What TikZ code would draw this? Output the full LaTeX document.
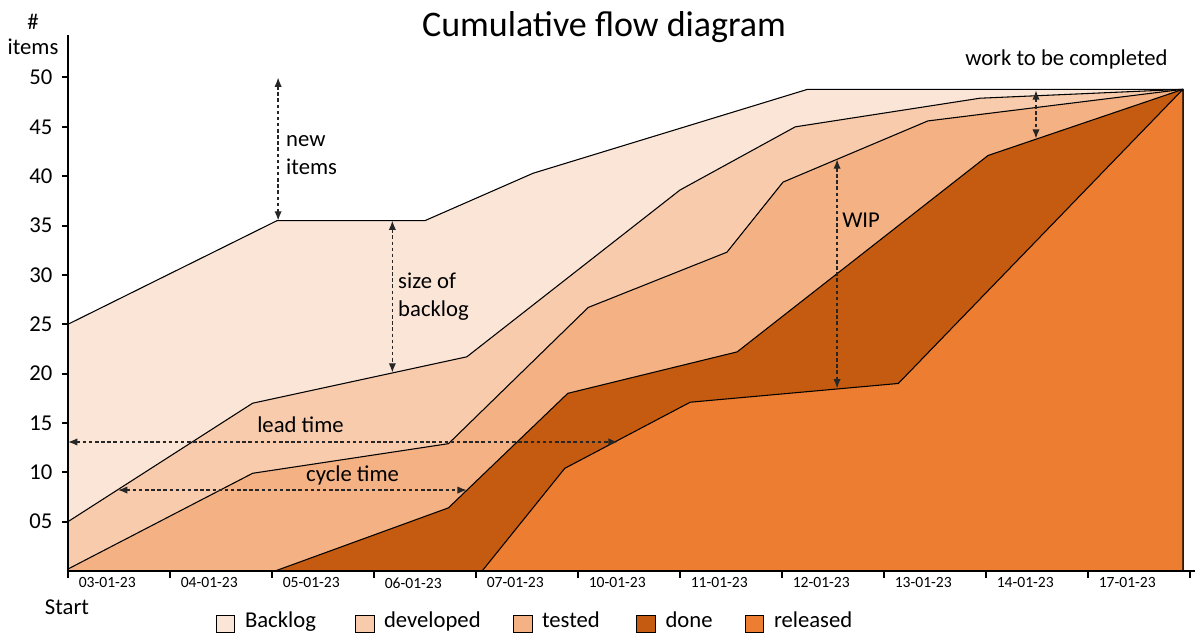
\documentclass[tikz,border=0pt]{standalone}
\usepackage{fontspec}
\setmainfont{Carlito}
\usetikzlibrary{arrows.meta,positioning}

\definecolor{backlogc}{HTML}{FBE5D6}
\definecolor{developedc}{HTML}{F8CBAD}
\definecolor{testedc}{HTML}{F4B183}
\definecolor{donec}{HTML}{C55A11}
\definecolor{releasedc}{HTML}{ED7D31}

\tikzset{
    area/.style={draw=black, line width=0.8pt, line join=round},
    axisline/.style={line width=2.2pt},
    dimarrow/.style={dash pattern=on 2.6pt off 2pt, line width=1pt, draw=black!85,
        {Latex[length=7pt,width=5.5pt]}-{Latex[length=7pt,width=5.5pt]}},
    note/.style={font=\fontsize{17}{21}\selectfont, inner sep=0pt, align=left},
    ticklabel/.style={font=\fontsize{11.7}{14}\selectfont, inner sep=0pt},
    legbox/.style={draw=black, line width=0.7pt, minimum width=14.2pt, minimum height=12.7pt, inner sep=0pt},
    legtext/.style={font=\fontsize{17}{21}\selectfont, inner sep=0pt, text height=1.5ex, text depth=0.3ex}
}

\begin{document}
\begin{tikzpicture}[x=2.6888cm, y=0.26017cm]
    \useasboundingbox (-0.6667,-6.383) rectangle (11.1176,57.852);

    % stacked areas, back to front
    \filldraw[area, fill=backlogc] (0,25) -- (2.05,35.5) -- (3.5,35.5) -- (4.56,40.3)
        -- (7.25,48.8) -- (10.93,48.8) -- (10.93,0) -- (0,0) -- cycle;
    \filldraw[area, fill=developedc] (0,5) -- (1.81,17) -- (3.91,21.7) -- (6,38.6)
        -- (7.13,45) -- (8.94,47.9) -- (10.93,48.8) -- (10.93,0) -- (0,0) -- cycle;
    \filldraw[area, fill=testedc] (0,0.2) -- (1.81,9.9) -- (3.73,12.9) -- (5.1,26.7)
        -- (6.46,32.3) -- (7.01,39.4) -- (8.43,45.6) -- (10.93,48.8) -- (10.93,0) -- (0,0) -- cycle;
    \filldraw[area, fill=donec] (2.03,0) -- (3.73,6.4) -- (4.9,18) -- (6.56,22.2)
        -- (9.02,42.1) -- (10.93,48.8) -- (10.93,0) -- cycle;
    \filldraw[area, fill=releasedc] (4.06,0) -- (4.87,10.4) -- (6.1,17.1) -- (8.14,19)
        -- (10.93,48.8) -- (10.93,0) -- cycle;

    % axes
    \draw[axisline] (0,54.3) -- (0,0) -- (11.05,0);
    \foreach \v/\t in {5/05,10/10,15/15,20/20,25/25,30/30,35/35,40/40,45/45,50/50} {
        \draw[line width=1.5pt] (-0.055,\v) -- (0,\v);
        \node[note, anchor=east] (ylab\v) at (-0.15,\v) {\t};
    }
    \foreach \d [count=\k from 0] in {03-01-23,04-01-23,05-01-23,06-01-23,07-01-23,10-01-23,
        11-01-23,12-01-23,13-01-23,14-01-23,17-01-23} {
        \draw[line width=1.5pt] (\k,0) -- (\k,-0.7);
        \node[ticklabel] (xlab\k) at (\k+0.385,-1.2) {\d};
    }
    \draw[line width=1.5pt] (11,0) -- (11,-0.7);

    \node[note] (hash) at (-0.343,55.6) {\#};
    \node[note] (items) at (-0.343,53.1) {items};
    \node[note] (start) at (-0.01,-3.7) {Start};
    \node[font=\fontsize{27}{32}\selectfont, inner sep=0pt] (title) at (5.255,55.1) {Cumulative flow diagram};

    % annotations
    \coordinate (newtop) at (2.06,50);
    \coordinate (newbot) at (2.06,35.5);
    \draw[dimarrow] (newtop) -- (newbot);
    \node[note, anchor=north west] (newlab) at (2.137,44.1) {new\\items};

    \coordinate (logtop) at (3.18,35.5);
    \coordinate (logbot) at (3.18,20.1);
    \draw[dimarrow] (logtop) -- (logbot);
    \node[note, anchor=north west] (loglab) at (3.235,30.2) {size of\\backlog};

    \coordinate (leadl) at (0,13.07);
    \coordinate (leadr) at (5.39,13.07);
    \draw[dimarrow] (leadl) -- (leadr);
    \node[note, anchor=base west] (leadlab) at (1.853,14.08) {lead time};

    \coordinate (cyclel) at (0.49,8.2);
    \coordinate (cycler) at (3.91,8.2);
    \draw[dimarrow] (cyclel) -- (cycler);
    \node[note, anchor=base west] (cyclelab) at (2.333,9.02) {cycle time};

    \coordinate (wiptop) at (7.54,41.7);
    \coordinate (wipbot) at (7.54,18.5);
    \draw[dimarrow] (wiptop) -- (wipbot);
    \node[note, anchor=base west] (wiplab) at (7.588,34.85) {WIP};

    \coordinate (worktop) at (9.49,48.7);
    \coordinate (workbot) at (9.49,43.8);
    \draw[dimarrow] (worktop) -- (workbot);
    \node[note, anchor=base west] (worklab) at (8.794,51.17) {work to be completed};

    % legend
    \foreach \x/\c/\t [count=\i] in {1.544/backlogc/Backlog, 2.907/developedc/developed,
        4.456/testedc/tested, 5.667/donec/done, 6.73/releasedc/released} {
        \node[legbox, fill=\c] (leg\i) at (\x,-5.32) {};
        \node[legtext, right=7pt of leg\i] (legt\i) {\t};
    }
\end{tikzpicture}
\end{document}
